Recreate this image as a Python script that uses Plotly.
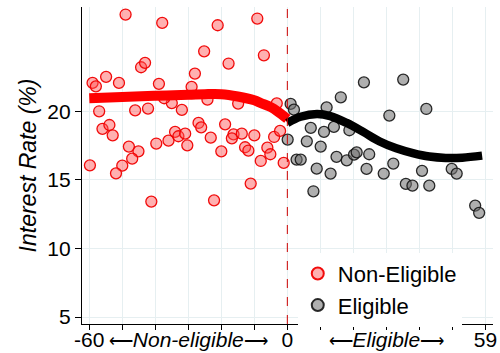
import plotly.graph_objects as go

# Running variable (days from cutoff) and interest rate for each bin
noneligible_x = [-49.0, -37.9, -44.3, -43.1, -59.0, -58.0, -54.9, -51.0, -38.9, -57.0,
                 -46.1, -42.2, -35.0, -31.95, -56.0, -53.9, -52.9, -48.0, -45.1, -47.0,
                 -50.0, -51.9, -59.8, -39.7, -36.0, -34.0, -33.0, -30.95, -30.3, -41.2,
                 -28.0, -29.0, -37.3,
                 -21.1, -9.1, -25.2, -7.1, -17.8, -24.2, -14.9, -3.2, -26.9, -26.1,
                 -18.85, -23.2, -20.0, -16.3, -16.8, -13.8, -10.0, -12.8, -11.8, -8.05,
                 -6.05, -5.15, -4.0, -2.2, -1.1, -11.1, -22.2]
noneligible_y = [27.05, 26.44, 23.21, 23.53, 22.07, 21.82, 22.51, 22.07, 22.0, 20.0,
                 20.07, 20.2, 20.6, 20.1, 18.72, 19.0, 18.25, 17.43, 17.08, 16.55,
                 16.04, 15.48, 16.06, 17.65, 17.86, 18.5, 18.18, 18.37, 17.52, 13.42,
                 22.75, 21.78, 20.95,
                 26.27, 26.76, 24.37, 24.08, 23.48, 20.85, 20.56, 20.58, 19.15, 18.83,
                 19.05, 18.08, 17.08, 18.32, 18.03, 18.37, 18.25, 17.38, 17.14, 16.38,
                 17.35, 16.87, 18.13, 18.57, 16.24, 14.73, 13.51]

eligible_x = [1.0, 2.0, 0.1, 2.8, 4.05, 7.1, 5.9, 11.9, 16.2, 11.1,
              14.1, 10.1, 8.9, 13.1, 7.9, 23.2, 18.8, 14.9, 18.0, 20.2,
              21.0, 24.8, 24.0, 29.2, 32.1, 30.9, 35.1, 35.9, 37.9, 40.8,
              42.1, 43.0, 49.8, 51.3, 56.9, 58.1]
eligible_y = [20.54, 20.12, 17.94, 16.48, 16.48, 18.79, 17.81, 20.29, 21.02, 18.5,
              18.86, 17.43, 15.82, 15.46, 14.17, 22.11, 18.62, 16.68, 16.43, 16.84,
              17.01, 16.87, 15.8, 15.46, 16.19, 19.69, 22.31, 14.71, 14.58, 15.66,
              20.17, 14.58, 15.8, 15.46, 13.13, 12.6]

# Smoothed fits on each side of the cutoff
fit_left_x = [-60, -50, -40, -30, -25, -20, -15, -10, -8, -5, -3, 0]
fit_left_y = [20.95, 21.05, 21.13, 21.2, 21.25, 21.25, 21.08, 20.8, 20.6, 20.3, 20.0, 19.45]
fit_right_x = [0, 4, 9, 13, 18, 23, 28, 33, 38, 43, 48, 53, 59]
fit_right_y = [19.15, 19.6, 19.8, 19.65, 19.15, 18.5, 17.8, 17.3, 16.95, 16.7, 16.6, 16.62, 16.77]

LA = '<span style="font-size:17px">\u27f5</span>'
RA = '<span style="font-size:17px">\u27f6</span>'
x_tickvals = [-60, -50, -40, -30, -20, -10, 0, 10, 20, 30, 40, 50, 60]
x_ticktext = ["-60", "", "", LA + "<i>Non-eligible</i>" + RA, "", "", "0",
              "", "", LA + "<i>Eligible</i>" + RA, "", "", "59"]
y_tickvals = [5, 10, 15, 20]

FONT = "Liberation Sans, Arial, sans-serif"
GRID = "#e6eff1"

fig = go.Figure()

fig.add_trace(go.Scatter(
    x=noneligible_x, y=noneligible_y, mode="markers", name="Non-Eligible",
    marker=dict(size=11, color="rgba(255,80,80,0.45)",
                line=dict(color="rgba(240,0,0,0.95)", width=1.3)),
))
fig.add_trace(go.Scatter(
    x=eligible_x, y=eligible_y, mode="markers", name="Eligible",
    marker=dict(size=11, color="rgba(110,110,110,0.55)",
                line=dict(color="rgba(20,20,20,0.9)", width=1.3)),
))
fig.add_trace(go.Scatter(
    x=fit_left_x, y=fit_left_y, mode="lines", showlegend=False,
    line=dict(color="#ff0000", width=10, shape="spline", smoothing=1.0),
))
fig.add_trace(go.Scatter(
    x=fit_right_x, y=fit_right_y, mode="lines", showlegend=False,
    line=dict(color="#000000", width=8.5, shape="spline", smoothing=1.0),
))

# Cutoff marker
fig.add_shape(type="line", x0=0, x1=0, y0=0, y1=1, xref="x", yref="paper",
              line=dict(color="#cc0000", width=1, dash="dash"))

fig.update_layout(
    width=500, height=353,
    margin=dict(l=82, r=7, t=7, b=29, autoexpand=False),
    paper_bgcolor="white", plot_bgcolor="white",
    font=dict(family=FONT, color="black", size=20),
    legend=dict(x=0.525, y=0.225, xanchor="left", yanchor="top",
                bgcolor="white", borderwidth=0,
                font=dict(size=22, family=FONT),
                itemsizing="constant", tracegroupgap=0),
    xaxis=dict(range=[-62.2, 62.3], tickvals=x_tickvals, ticktext=x_ticktext,
               tickangle=0, automargin=False, ticklabelstandoff=-8,
               showgrid=True, gridcolor=GRID, gridwidth=1,
               showline=True, linecolor="black", linewidth=1.2,
               ticks="outside", ticklen=5, tickcolor="black",
               tickfont=dict(size=21), zeroline=False),
    yaxis=dict(range=[4.5, 27.6], tickvals=y_tickvals, automargin=False,
               showgrid=True, gridcolor=GRID, gridwidth=1,
               showline=True, linecolor="black", linewidth=1.2,
               ticks="outside", ticklen=6, tickcolor="black",
               tickfont=dict(size=21), zeroline=False,
               title=dict(text="<i>Interest Rate (%)</i>", font=dict(size=23), standoff=4)),
)

fig.write_html("out.html")
